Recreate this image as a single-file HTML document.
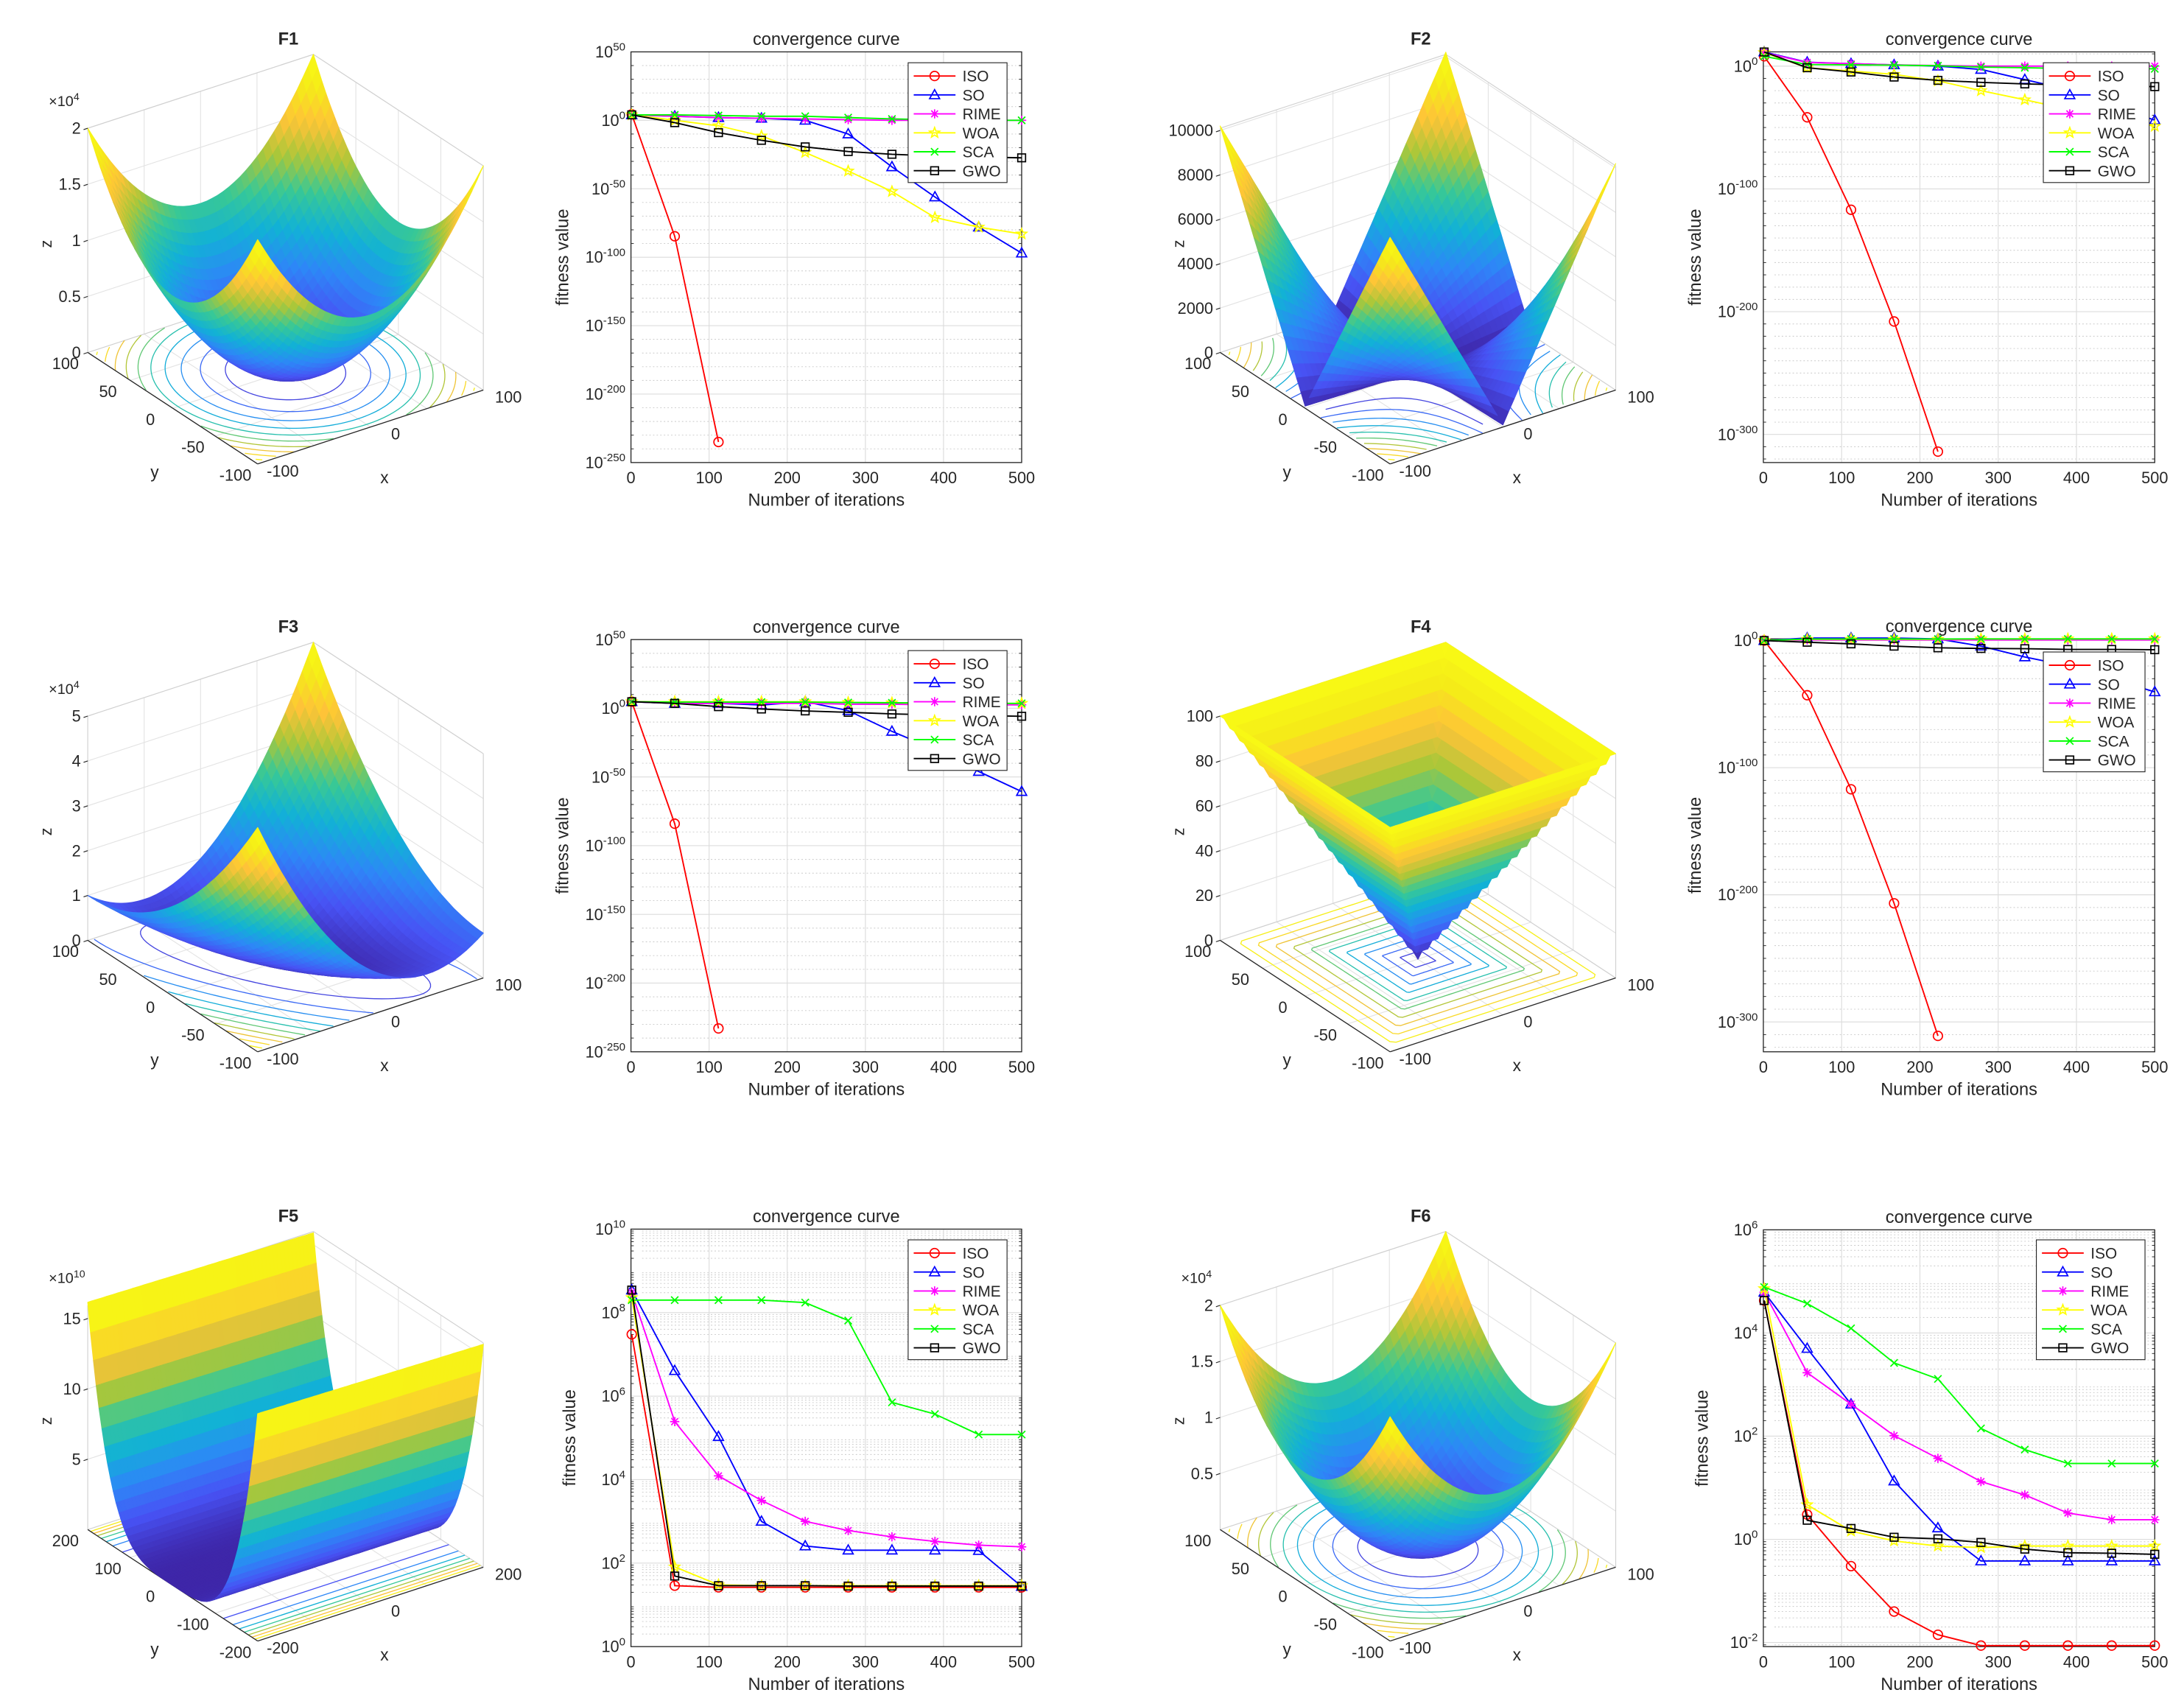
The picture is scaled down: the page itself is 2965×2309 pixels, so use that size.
<!DOCTYPE html>
<html>
<head>
<meta charset="utf-8">
<style>
html,body{margin:0;padding:0;background:#fff;}
svg{display:block;font-family:"Liberation Sans",Arial,sans-serif;}
</style>
</head>
<body>
<svg id="fig" width="2965" height="2309" viewBox="0 0 1568 1221">
<rect x="0" y="0" width="1568" height="1221" fill="#ffffff"/>
</svg>
<script>
// ---------- convergence data (log10 of fitness) ----------
const iters = [1,56,112,167,223,278,334,389,445,500];
const algNames = ["ISO","SO","RIME","WOA","SCA","GWO"];

const f1Iso  = [4.4,-84.7,-235];
const f1So   = [4,3,2,1.5,0,-10,-34,-56,-78,-97];
const f1Rime = [4,3,2,1.5,1,0.5,0,0,0,0];
const f1Woa  = [4,0,-4,-11.4,-23.5,-37,-52,-71,-78,-83];
const f1Sca  = [4,4,3.5,3,3,2,1,0.5,0,0];
const f1Gwo  = [4,-1.7,-9,-14.6,-19.4,-22.8,-24.8,-26,-26.8,-27.4];

const f2Iso  = [8,-41.7,-117,-208,-314];
const f2So   = [11.5,3.2,2,1,0,-2.7,-11,-19,-32,-44];
const f2Rime = [11,3,2,1,0.5,0,0,0,0,0];
const f2Woa  = [11,-1.3,-4,-6.7,-12,-20,-27.4,-35,-42,-49];
const f2Sca  = [8,1.3,1,0.8,0.3,-0.8,-1.3,-2,-2,-2.2];
const f2Gwo  = [11.5,-1.3,-4.8,-8.9,-11.6,-13.2,-14.5,-15.3,-16,-16.7];

const f3Iso  = [4.8,-84,-233];
const f3So   = [4.8,3.6,3.6,2.4,4.8,-1.7,-16.8,-30,-46,-60.6];
const f3Rime = [4.8,3.6,3.6,3.6,3.6,3,3,2.5,2.5,2.5];
const f3Woa  = [4.8,4.8,4.8,4.8,4.8,4.3,4,3.6,3.6,3.6];
const f3Sca  = [4.8,4.5,4.5,4.5,4.5,4.2,4,3.8,3.6,3.6];
const f3Gwo  = [4.8,3.6,1.2,-0.5,-1.9,-2.9,-4.1,-4.8,-5.3,-5.8];

const f4Iso  = [0,-43,-117,-206.7,-311];
const f4So   = [0,2,2,2,1.3,-4.4,-12.9,-19.8,-30,-40.4];
const f4Rime = [0,0.5,0.5,0.5,0.5,0.5,0.5,0.5,0.5,0.5];
const f4Woa  = [0,1,1,1,1,1.3,1.3,1.3,1.3,1.3];
const f4Sca  = [0,1.2,1.2,1.2,1.2,1.3,1.3,1.3,1.3,1.3];
const f4Gwo  = [0,-1.3,-2.6,-4.4,-5.7,-6.2,-6.4,-7,-7,-7.2];

const f5Iso  = [7.48,1.46,1.42,1.42,1.42,1.42,1.42,1.42,1.42,1.42];
const f5So   = [8.54,6.61,5.03,3.0,2.41,2.31,2.31,2.31,2.3,1.44];
const f5Rime = [8.48,5.39,4.09,3.5,3.0,2.78,2.63,2.52,2.43,2.39];
const f5Woa  = [8.36,1.91,1.48,1.46,1.46,1.46,1.46,1.46,1.46,1.46];
const f5Sca  = [8.3,8.3,8.3,8.3,8.24,7.81,5.85,5.57,5.08,5.08];
const f5Gwo  = [8.54,1.69,1.46,1.46,1.46,1.45,1.45,1.45,1.45,1.45];

const f6Iso  = [4.63,0.48,-0.52,-1.4,-1.85,-2.06,-2.06,-2.06,-2.06,-2.06];
const f6So   = [4.79,3.7,2.62,1.13,0.22,-0.42,-0.42,-0.42,-0.42,-0.42];
const f6Rime = [4.79,3.23,2.62,2.01,1.57,1.12,0.86,0.51,0.38,0.38];
const f6Woa  = [4.86,0.67,0.16,-0.03,-0.13,-0.16,-0.13,-0.13,-0.13,-0.13];
const f6Sca  = [4.89,4.57,4.09,3.42,3.11,2.15,1.74,1.47,1.47,1.47];
const f6Gwo  = [4.63,0.37,0.21,0.04,0.01,-0.06,-0.19,-0.26,-0.27,-0.29];

const ticksBig1 = [50,0,-50,-100,-150,-200,-250];
const ticksBig2 = [0,-100,-200,-300];
const ticksF5 = [0,2,4,6,8,10];
const ticksF6 = [-2,0,2,4,6];
const xTicks = [0,100,200,300,400,500];

const svg = document.getElementById('fig');
const NS = svg.namespaceURI;
function mk(tag, attrs, parent){
  const e = document.createElementNS(NS, tag);
  for (const k in attrs) e.setAttribute(k, attrs[k]);
  (parent || svg).appendChild(e);
  return e;
}
function txt(x,y,s,size,anchor,parent,extra){
  const t = mk('text',{x:x,y:y,'font-size':size,'text-anchor':anchor||'middle',fill:'#262626'},parent);
  if (extra) for (const k in extra) t.setAttribute(k, extra[k]);
  t.textContent = s;
  return t;
}
function pow10Label(x,y,exp,parent){
  const t = mk('text',{x:x,y:y,'font-size':11.5,'text-anchor':'end',fill:'#262626'},parent);
  t.appendChild(document.createTextNode('10'));
  const s = mk('tspan',{dy:-5,'font-size':8},t);
  s.textContent = String(exp);
  return t;
}

const colors = {ISO:'#ff0000',SO:'#0000ff',RIME:'#ff00ff',WOA:'#ffff00',SCA:'#00ff00',GWO:'#000000'};

function marker(kind,x,y,col,parent){
  const g = mk('g',{stroke:col,fill:'none','stroke-width':0.9},parent);
  const r = 3.3;
  if (kind==='ISO') mk('circle',{cx:x,cy:y,r:r},g);
  else if (kind==='SO') mk('polygon',{points:`${x},${y-r-0.5} ${x+r+0.3},${y+r-0.6} ${x-r-0.3},${y+r-0.6}`},g);
  else if (kind==='RIME'){
    mk('path',{d:`M${x-r} ${y}H${x+r}M${x} ${y-r}V${y+r}M${x-2.4} ${y-2.4}L${x+2.4} ${y+2.4}M${x-2.4} ${y+2.4}L${x+2.4} ${y-2.4}`},g);
  } else if (kind==='WOA'){
    let pts=[];
    for(let i=0;i<10;i++){const a=-Math.PI/2+i*Math.PI/5;const rr=i%2?1.6:3.8;pts.push((x+rr*Math.cos(a)).toFixed(2)+','+(y+rr*Math.sin(a)).toFixed(2));}
    mk('polygon',{points:pts.join(' ')},g);
  } else if (kind==='SCA'){
    mk('path',{d:`M${x-2.6} ${y-2.6}L${x+2.6} ${y+2.6}M${x-2.6} ${y+2.6}L${x+2.6} ${y-2.6}`},g);
  } else {
    mk('rect',{x:x-2.8,y:y-2.8,width:5.6,height:5.6},g);
  }
  return g;
}

function drawConv(cfg){
  const g = mk('g',{});
  
  
  const sx = v => cfg.x0 + (v-0)/(500-0)*(cfg.x1-cfg.x0);
  const sy = v => cfg.top + (cfg.ymax - v)/(cfg.ymax - cfg.ymin)*(cfg.bot-cfg.top);
  const bg = mk('rect',{x:cfg.x0,y:cfg.top,width:cfg.x1-cfg.x0,height:cfg.bot-cfg.top,fill:'#fff'},g);
  
  
  const minor = [];
  if (cfg.logMinor){
    for (let d=Math.floor(cfg.ymin); d<cfg.ymax; d++)
      for (let m=2;m<=9;m++){const v=d+Math.log10(m); if(v>cfg.ymin&&v<cfg.ymax) minor.push(v);}
  } else {
    for (let v=Math.ceil(cfg.ymin/10)*10; v<cfg.ymax; v+=10) if (cfg.ticks.indexOf(v)<0) minor.push(v);
  }
  minor.forEach(v=>{
    const l = mk('line',{x1:cfg.x0+8,x2:cfg.x1-4,y1:sy(v),y2:sy(v),stroke:'#c8c8c8','stroke-width':0.5,'stroke-dasharray':'1 1.6'},g);
    
    
    const tl = mk('line',{x1:cfg.x0,x2:cfg.x0+2,y1:sy(v),y2:sy(v),stroke:'#262626','stroke-width':0.5},g);
    
    
    const tr = mk('line',{x1:cfg.x1-2,x2:cfg.x1,y1:sy(v),y2:sy(v),stroke:'#262626','stroke-width':0.5},g);
    
    
  });
  cfg.ticks.forEach(v=>{
    const l = mk('line',{x1:cfg.x0,x2:cfg.x1,y1:sy(v),y2:sy(v),stroke:'#dcdcdc','stroke-width':0.6},g);
    
    
    const t = pow10Label(cfg.x0-4, sy(v)+4, v, g);
    
    
  });
  xTicks.forEach(v=>{
    const l = mk('line',{x1:sx(v),x2:sx(v),y1:cfg.top,y2:cfg.bot,stroke:'#dcdcdc','stroke-width':0.6},g);
    
    
    const t = txt(sx(v), cfg.bot+15, String(v), 11.5, 'middle', g);
    
    
  });
  const box = mk('rect',{x:cfg.x0,y:cfg.top,width:cfg.x1-cfg.x0,height:cfg.bot-cfg.top,fill:'none',stroke:'#262626','stroke-width':0.7},g);
  
  
  cfg.series.forEach((vals,k)=>{
    const nm = algNames[k];
    const pts = vals.map((v,i)=>sx(iters[i]).toFixed(2)+','+sy(v).toFixed(2)).join(' ');
    const pl = mk('polyline',{points:pts,fill:'none',stroke:colors[nm],'stroke-width':1},g);
    
    
    vals.forEach((v,i)=>{
      const m = marker(nm, sx(iters[i]), sy(v), colors[nm], g);
      
      
    });
  });
  const ti = txt((cfg.x0+cfg.x1)/2, cfg.top-5, 'convergence curve', 12.5, 'middle', g);
  
  
  const xl = txt((cfg.x0+cfg.x1)/2, cfg.bot+31, 'Number of iterations', 12.5, 'middle', g);
  
  
  const ym = (cfg.top+cfg.bot)/2;
  const yl = txt(cfg.ylx, ym, 'fitness value', 12.5, 'middle', g, {transform:`rotate(-90 ${cfg.ylx} ${ym})`});
  
  
  const lg = mk('g',{},g);
  
  
  const lr = mk('rect',{x:cfg.lx,y:cfg.ly,width:cfg.lw,height:86,fill:'#fff',stroke:'#262626','stroke-width':0.6},lg);
  
  
  algNames.forEach((nm,i)=>{
    const yy = cfg.ly+9.5+i*13.6;
    const e = mk('g',{},lg);
    
    
    mk('line',{x1:cfg.lx+4,x2:cfg.lx+34,y1:yy,y2:yy,stroke:colors[nm],'stroke-width':1},e);
    marker(nm, cfg.lx+19, yy, colors[nm], e);
    txt(cfg.lx+39, yy+4, nm, 11, 'start', e);
  });
}

const convPanels = [
  {name:'convergence-f1',x0:453,x1:733.5,top:37.2,bot:332,ymax:50,ymin:-250,ticks:ticksBig1,ylx:408,lx:652,ly:45,lw:71,series:[f1Iso,f1So,f1Rime,f1Woa,f1Sca,f1Gwo]},
  {name:'convergence-f2',x0:1266,x1:1547,top:37.2,bot:332,ymax:11.6,ymin:-322.9,ticks:ticksBig2,ylx:1221,lx:1467,ly:45,lw:76,series:[f2Iso,f2So,f2Rime,f2Woa,f2Sca,f2Gwo]},
  {name:'convergence-f3',x0:453,x1:733.5,top:459.1,bot:755,ymax:50,ymin:-250,ticks:ticksBig1,ylx:408,lx:652,ly:467,lw:71,series:[f3Iso,f3So,f3Rime,f3Woa,f3Sca,f3Gwo]},
  {name:'convergence-f4',x0:1266,x1:1547,top:458.6,bot:755,ymax:1.3,ymin:-323.5,ticks:ticksBig2,ylx:1221,lx:1467,ly:468,lw:73,series:[f4Iso,f4So,f4Rime,f4Woa,f4Sca,f4Gwo]},
  {name:'convergence-f5',x0:453,x1:733.5,top:882.3,bot:1182,ymax:10,ymin:0,ticks:ticksF5,logMinor:true,ylx:413,lx:652,ly:890,lw:71,series:[f5Iso,f5So,f5Rime,f5Woa,f5Sca,f5Gwo]},
  {name:'convergence-f6',x0:1266,x1:1547,top:882.8,bot:1182,ymax:6,ymin:-2.08,ticks:ticksF6,logMinor:true,ylx:1226,lx:1462,ly:890,lw:78,series:[f6Iso,f6So,f6Rime,f6Woa,f6Sca,f6Gwo]}
];

// ---------- surfaces ----------
const parulaStops = [
 [0.2422,0.1504,0.6603],[0.2810,0.3228,0.9579],[0.1786,0.5289,0.9682],[0.0689,0.6948,0.8394],
 [0.2161,0.7843,0.5923],[0.6720,0.7793,0.2227],[0.9970,0.7659,0.2199],[0.9598,0.9218,0.0948],[0.9769,0.9839,0.0805]];
function parula(t){
  t = Math.max(0,Math.min(1,t));
  const p = t*(parulaStops.length-1); const i = Math.min(parulaStops.length-2, Math.floor(p)); const f = p-i;
  const a = parulaStops[i], b = parulaStops[i+1];
  const c = [0,1,2].map(k=>Math.round(255*(a[k]+(b[k]-a[k])*f)));
  return `rgb(${c[0]},${c[1]},${c[2]})`;
}

function drawSurface(cfg){
  const g = mk('g',{});
  
  
  const dx=cfg.dx, dy=cfg.dy;
  const P = (X,Y,Zn)=>[205+81*X-61*Y+dx, 266.5-26.5*X-40*Y-161*Zn+dy];
  const line = (a,b,col,w,name)=>{
    const l = mk('line',{x1:a[0],y1:a[1],x2:b[0],y2:b[1],stroke:col,'stroke-width':w},g);
    
    
  };
  const gc = '#e3e3e3';
  cfg.zTicks.forEach(z=>{
    const zn = z/cfg.zTop;
    line(P(-1,1,zn),P(1,1,zn),gc,0.6,'z-gridline');
    line(P(1,1,zn),P(1,-1,zn),gc,0.6,'z-gridline');
  });
  [-0.5,0,0.5].forEach(v=>{
    line(P(v,1,0),P(v,1,1),gc,0.6,'x-gridline');
    line(P(1,v,0),P(1,v,1),gc,0.6,'y-gridline');
    line(P(v,-1,0),P(v,1,0),gc,0.6,'x-gridline');
    line(P(-1,v,0),P(1,v,0),gc,0.6,'y-gridline');
  });
  line(P(-1,1,0),P(-1,1,1),'#d0d0d0',0.6,'box-edge');
  line(P(1,1,0),P(1,1,1),'#d0d0d0',0.6,'box-edge');
  line(P(1,-1,0),P(1,-1,1),'#d0d0d0',0.6,'box-edge');
  line(P(-1,1,1),P(1,1,1),'#d0d0d0',0.6,'box-edge');
  line(P(1,1,1),P(1,-1,1),'#d0d0d0',0.6,'box-edge');
  line(P(-1,1,0),P(1,1,0),'#d0d0d0',0.6,'box-edge');
  line(P(1,1,0),P(1,-1,0),'#d0d0d0',0.6,'box-edge');
  const cg = mk('g',{fill:'none','stroke-width':0.7},g);
  
  
  if (cfg.lineContours){
    for (let k=1;k<=7;k++){
      const c = k*cfg.zMax/8;
      const yn = cfg.lineContours(c);
      [-yn,yn].forEach(Y=>{
        if (Math.abs(Y)>1) return;
        const a=P(-1,Y,0), b=P(1,Y,0);
        const l = mk('line',{x1:a[0],y1:a[1],x2:b[0],y2:b[1],stroke:parula(c/cfg.zMax)},cg);
        
        
      });
    }
  } else {
    for (let k=1;k<=cfg.nLevels;k++){
      const c = cfg.zMin + k*(cfg.zMax-cfg.zMin)/(cfg.nLevels+1);
      let d=''; let pen=false;
      for (let s=0;s<=180;s++){
        const th = s/180*2*Math.PI;
        let lo=0, hi=1.5;
        for (let it=0;it<30;it++){const m=(lo+hi)/2; if (cfg.f(m*Math.cos(th),m*Math.sin(th))<c) lo=m; else hi=m;}
        const X=lo*Math.cos(th), Y=lo*Math.sin(th);
        if (Math.abs(X)>1||Math.abs(Y)>1){pen=false;continue;}
        const p=P(X,Y,0);
        d += (pen?'L':'M')+p[0].toFixed(2)+' '+p[1].toFixed(2);
        pen=true;
      }
      if (d){
        const pth = mk('path',{d:d,stroke:parula((c-cfg.zMin)/(cfg.zMax-cfg.zMin))},cg);
        
        
      }
    }
  }
  line(P(-1,1,0),P(-1,-1,0),'#262626',0.7,'y-axis-line');
  line(P(-1,-1,0),P(1,-1,0),'#262626',0.7,'x-axis-line');
  const N = cfg.N || 40;
  const quads = [];
  for (let i=0;i<N;i++) for (let j=0;j<N;j++){
    const X0=-1+2*i/N, X1=-1+2*(i+1)/N, Y0=-1+2*j/N, Y1=-1+2*(j+1)/N;
    const zs=[cfg.f(X0,Y0),cfg.f(X1,Y0),cfg.f(X1,Y1),cfg.f(X0,Y1)];
    const za=(zs[0]+zs[1]+zs[2]+zs[3])/4;
    quads.push({X0,X1,Y0,Y1,zs,za,depth:(X0+X1+Y0+Y1)/4});
  }
  quads.sort((a,b)=>b.depth-a.depth);
  const sg = mk('g',{'stroke-width':0.6,'stroke-linejoin':'round'},g);
  
  
  quads.forEach(q=>{
    const c = parula((q.za-cfg.zMin)/(cfg.zMax-cfg.zMin));
    const pts=[P(q.X0,q.Y0,q.zs[0]/cfg.zTop),P(q.X1,q.Y0,q.zs[1]/cfg.zTop),P(q.X1,q.Y1,q.zs[2]/cfg.zTop),P(q.X0,q.Y1,q.zs[3]/cfg.zTop)];
    const pg = mk('polygon',{points:pts.map(p=>p[0].toFixed(1)+','+p[1].toFixed(1)).join(' '),fill:c,stroke:c},sg);
    
    
  });
  cfg.zTicks.forEach((z,i)=>{
    const p = P(-1,1,z/cfg.zTop);
    line([p[0]-3,p[1]+1],p,'#262626',0.6,'z-tick');
    const t = txt(p[0]-5,p[1]+4,cfg.zLabels[i],11.5,'end',g);
    
    
  });
  cfg.yLabels.forEach((s,i)=>{
    const Y = 1 - 2*i/(cfg.yLabels.length-1);
    const p = P(-1,Y,0);
    const t = txt(p[0]-16,p[1]+12,s,11.5,'middle',g);
    
    
  });
  cfg.xLabels.forEach((s,i)=>{
    const X = -1 + 2*i/(cfg.xLabels.length-1);
    const p = P(X,-1,0);
    const t = txt(p[0]+18,p[1]+9,s,11.5,'middle',g);
    
    
  });
  const zl = txt(37+dx,175+dy,'z',11.5,'middle',g,{transform:`rotate(-90 ${37+dx} ${175+dy})`});
  
  
  const yl = txt(111+dx,343+dy,'y',12,'middle',g);
  
  
  const xl = txt(276+dx,347+dy,'x',12,'middle',g);
  
  
  const ti = txt(207+dx,32+dy,cfg.title,12.5,'middle',g,{'font-weight':'bold'});
  
  
  if (cfg.expo){
    const e = mk('text',{x:35+dx,y:76+dy,'font-size':10.5,fill:'#262626'},g);
    
    
    e.appendChild(document.createTextNode('\u00d710'));
    const s = mk('tspan',{dy:-4,'font-size':7.5},e);
    s.textContent = cfg.expo;
  }
}

const surfPanels = [
  {name:'surface-f1',title:'F1',dx:0,dy:0,f:(X,Y)=>1e4*(X*X+Y*Y),zMin:0,zMax:2e4,zTop:2e4,nLevels:10,
   zTicks:[0,5000,10000,15000,20000],zLabels:['0','0.5','1','1.5','2'],expo:'4',
   xLabels:['-100','0','100'],yLabels:['100','50','0','-50','-100']},
  {name:'surface-f2',title:'F2',dx:813,dy:0,f:(X,Y)=>100*Math.abs(X)+100*Math.abs(Y)+1e4*Math.abs(X*Y),zMin:0,zMax:10200,zTop:10100,nLevels:10,
   zTicks:[0,2000,4000,6000,8000,10000],zLabels:['0','2000','4000','6000','8000','10000'],
   xLabels:['-100','0','100'],yLabels:['100','50','0','-50','-100']},
  {name:'surface-f3',title:'F3',dx:0,dy:422,f:(X,Y)=>1e4*(X*X+(X+Y)*(X+Y)),zMin:0,zMax:5e4,zTop:5e4,nLevels:10,
   zTicks:[0,1e4,2e4,3e4,4e4,5e4],zLabels:['0','1','2','3','4','5'],expo:'4',
   xLabels:['-100','0','100'],yLabels:['100','50','0','-50','-100']},
  {name:'surface-f4',title:'F4',dx:813,dy:422,f:(X,Y)=>100*Math.max(Math.abs(X),Math.abs(Y)),zMin:0,zMax:100,zTop:100,nLevels:10,
   zTicks:[0,20,40,60,80,100],zLabels:['0','20','40','60','80','100'],
   xLabels:['-100','0','100'],yLabels:['100','50','0','-50','-100']},
  {name:'surface-f5',title:'F5',dx:0,dy:845,N:60,f:(X,Y)=>{const a=200*Y,b=200*X;return 100*Math.pow(b-a*a,2)+Math.pow(a-1,2);},zMin:0,zMax:1.6e11,zTop:1.594e11,
   lineContours:c=>Math.pow(c/100,0.25)/200,
   zTicks:[5e10,1e11,1.5e11],zLabels:['5','10','15'],expo:'10',
   xLabels:['-200','0','200'],yLabels:['200','100','0','-100','-200']},
  {name:'surface-f6',title:'F6',dx:813,dy:845,f:(X,Y)=>1e4*(X*X+Y*Y),zMin:0,zMax:2e4,zTop:2e4,nLevels:10,
   zTicks:[5000,10000,15000,20000],zLabels:['0.5','1','1.5','2'],expo:'4',
   xLabels:['-100','0','100'],yLabels:['100','50','0','-50','-100']}
];

surfPanels.forEach(drawSurface);
convPanels.forEach(drawConv);
</script>
</body>
</html>
